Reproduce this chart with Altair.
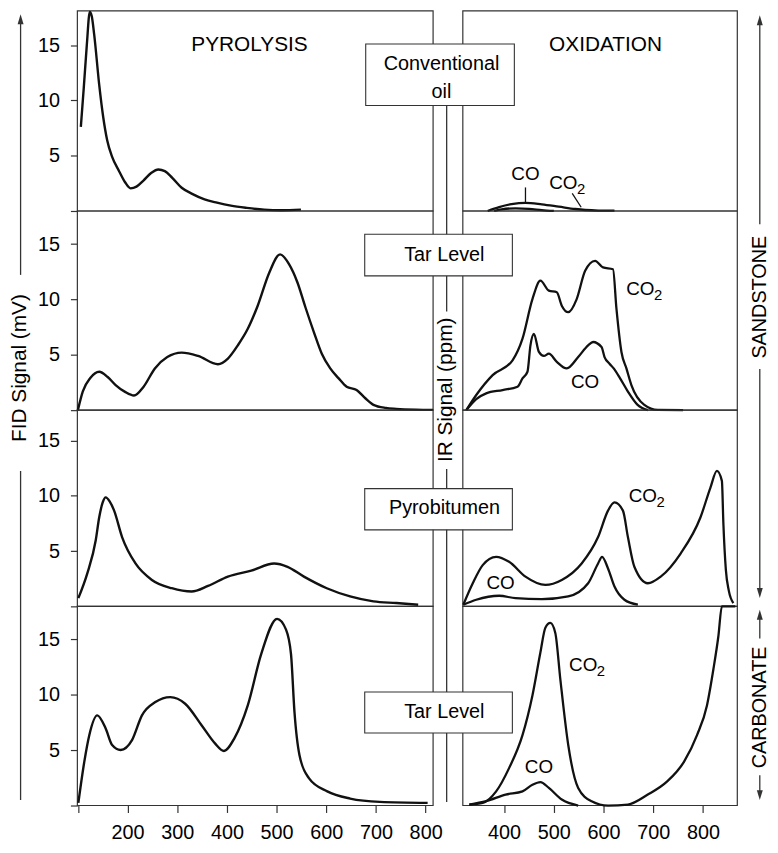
import altair as alt
import pandas as pd

# ---------------- values ----------------
# Pyrolysis: FID signal (mV) vs temperature (°C)
conv_pyro_T = [106, 112, 118, 124, 128, 133, 143, 151, 159, 169, 183, 195, 206, 218, 232, 248, 262, 275, 290, 309,
               330, 355, 380, 408, 440, 475, 510, 549]
conv_pyro_mV = [7.6, 11.2, 15.0, 18.0, 17.6, 15.9, 11.4, 8.5, 6.4, 4.9, 3.6, 2.6, 2.05, 2.2, 2.75, 3.45, 3.75, 3.6, 3.0, 2.1,
                1.55, 1.05, 0.75, 0.48, 0.28, 0.12, 0.07, 0.12]

tar_pyro_T = [100, 110, 125, 143, 160, 176, 195, 213, 232, 255, 280, 309, 342, 382, 402, 422, 442, 462, 485, 507,
              525, 542, 558, 575, 591, 608, 625, 641, 661, 678, 695, 720, 741, 780, 815]
tar_pyro_mV = [0, 1.7, 2.9, 3.47, 3.0, 2.27, 1.65, 1.32, 2.1, 3.77, 4.8, 5.2, 4.9, 4.15, 4.66, 5.86, 7.35, 9.44, 12.4, 14.08,
               13.2, 11.54, 9.3, 7.06, 5.1, 3.77, 2.87, 2.12, 1.82, 1.1, 0.48, 0.2, 0.12, 0.05, 0.03]

pyrob_pyro_T = [101, 119, 136, 143, 150, 156, 164, 173, 189, 216, 249, 289, 329, 362, 402, 449, 495, 522, 555, 601,
                648, 695, 741, 785]
pyrob_pyro_mV = [0.74, 2.98, 5.98, 8.06, 9.4, 9.86, 9.5, 8.66, 6.27, 3.88, 2.39, 1.64, 1.34, 1.85, 2.69, 3.23, 3.88, 3.58, 2.69, 1.64,
                 0.9, 0.45, 0.3, 0.15]

carb_pyro_T = [101, 113, 123, 139, 156, 169, 186, 209, 229, 256, 286, 316, 349, 376, 394, 415, 442, 469, 501, 519,
               529, 536, 546, 565, 602, 648, 708, 804]
carb_pyro_mV = [0.24, 3.97, 6.36, 8.15, 6.96, 5.47, 5.02, 5.91, 8.15, 9.35, 9.8, 9.2, 7.26, 5.62, 4.93, 6.07, 9.05, 13.68, 16.87, 15.9,
                13.68, 8.45, 4.57, 2.48, 1.28, 0.63, 0.33, 0.24]

# Oxidation: IR signal (ppm, arbitrary units) vs temperature (°C)
conv_ox_T_co2 = [367, 390, 415, 443, 476, 510, 543, 563, 590, 622]
conv_ox_co2 = [0, 0.35, 0.62, 0.74, 0.6, 0.39, 0.18, 0.09, 0.04, 0.03]
conv_ox_T_co = [380, 395, 423, 450, 476, 500]
conv_ox_co = [0, 0.15, 0.24, 0.2, 0.08, 0.0]

tar_ox_T_co2 = [324, 344, 377, 417, 437, 457, 473, 490, 506, 516, 529, 546, 563, 583, 599, 619, 626, 636, 646, 656,
                682, 709, 760]
tar_ox_co2 = [0, 1.37, 3.17, 4.5, 6.46, 10.04, 11.7, 10.8, 10.65, 9.44, 8.85, 10.04, 12.6, 13.5, 12.9, 12.73, 9.15, 5.26, 3.77, 2.27,
              0.48, 0.02, 0]
tar_ox_T_co = [324, 344, 364, 397, 427, 437, 447, 453, 460, 470, 480, 490, 506, 526, 549, 569, 579, 596, 602, 612,
               620, 633, 649, 668, 689]
tar_ox_co = [0, 1.0, 1.52, 1.82, 2.12, 2.87, 3.47, 5.86, 6.9, 5.26, 4.9, 5.1, 4.37, 3.77, 4.8, 5.86, 6.16, 5.7, 4.8, 4.2,
             3.8, 2.9, 1.68, 0.5, 0]

pyrob_ox_T_co2 = [318, 337, 357, 384, 410, 443, 483, 516, 556, 589, 609, 622, 639, 649, 662, 689, 715, 755, 795, 815,
                  828, 838, 841, 846, 852, 861]
pyrob_ox_co2 = [0.15, 2.09, 3.73, 4.48, 4.03, 2.69, 1.94, 2.39, 3.88, 6.27, 8.66, 9.4, 8.66, 6.27, 3.58, 2.09, 2.69, 4.78, 8.06, 10.75,
                12.25, 11.35, 7.5, 3.3, 1.4, 0.3]
pyrob_ox_T_co = [318, 344, 390, 423, 476, 529, 569, 589, 597, 609, 622, 642, 669]
pyrob_ox_co = [0.15, 0.6, 0.96, 0.74, 0.65, 0.9, 2.09, 3.88, 4.48, 3.43, 1.79, 0.6, 0.15]

carb_ox_T_co2 = [330, 357, 384, 410, 437, 457, 473, 483, 493, 503, 513, 529, 549, 576, 609, 649, 689, 728, 762, 788,
                 808, 821, 831, 838, 865]
carb_ox_co2 = [0.09, 0.24, 1.28, 3.38, 6.36, 9.95, 13.83, 16.07, 16.5, 15.6, 11.45, 5.47, 1.59, 0.39, 0, 0.09, 0.99, 2.18, 3.97, 6.36,
               9.05, 12.34, 15.32, 18.0, 18.0]
carb_ox_T_co = [330, 364, 403, 437, 457, 473, 490, 516, 549]
carb_ox_co = [0.09, 0.39, 0.99, 1.28, 1.88, 2.12, 1.59, 0.54, 0]

# curve labels (temperature, signal, subscript)
conv_lab_T, conv_lab_v, conv_lab_sub = [443, 519], [3.34, 2.49], ["", "2"]
tar_lab_T, tar_lab_v, tar_lab_sub = [674, 563], [10.96, 2.53], ["2", ""]
pyrob_lab_T, pyrob_lab_v, pyrob_lab_sub = [679, 393], [9.96, 2.13], ["2", ""]
carb_lab_T, carb_lab_v, carb_lab_sub = [559, 470], [12.65, 3.48], ["2", ""]
# pointer lines for the conventional-oil oxidation labels
conv_ptr_T, conv_ptr_T2 = [443, 537], [443, 555]
conv_ptr_v, conv_ptr_v2 = [2.13, 1.6], [0.65, 0.34]

panel_names = [["Conventional", "oil"], "Tar Level", "Pyrobitumen", "Tar Level"]
pyro_ticks = [100, 200, 300, 400, 500, 600, 700, 800]
ox_ticks = [400, 500, 600, 700, 800]
fid_ticks = [0, 5, 10, 15]

# ---------------- styling / layout ----------------
FONT = "Liberation Sans"
INK = "#111111"
LINE = "#333333"
W_L, W_R, GAP = 359, 277, 30
ROW_H = [202, 201, 198, 201]
ROW_VMAX = [18.1, 18.0, 17.75, 18.0]
X_PYRO = [99, 815]
X_OX = [317, 869]

dummy = pd.DataFrame({"k": [0]})


def vrule(x, y1, y2, width=1.3, opacity=1.0):
    return alt.Chart(dummy).mark_rule(color=LINE, strokeWidth=width, strokeOpacity=opacity).encode(
        x=alt.value(x), y=alt.value(y1), y2=alt.value(y2))


def arrowhead(x, y, up=True):
    path = "M0,-1L0.6,1L-0.6,1Z" if up else "M0,1L0.6,-1L-0.6,-1Z"
    return alt.Chart(dummy).mark_point(shape=path, filled=True, size=100, color=LINE, opacity=1).encode(
        x=alt.value(x), y=alt.value(y))


def text_at(x, y, txt, size=20, angle=0):
    return alt.Chart(dummy).mark_text(text=txt, font=FONT, fontSize=size, color="black", angle=angle,
                                      align="center", baseline="middle", lineHeight=28).encode(
        x=alt.value(x), y=alt.value(y))


def frame(w, h):
    return alt.Chart(dummy).mark_rect(fill="white", fillOpacity=0, stroke=LINE, strokeWidth=1.2).encode(
        x=alt.value(0), x2=alt.value(w), y=alt.value(0), y2=alt.value(h))


def label_box(x0, x1, y0, y1):
    return alt.Chart(dummy).mark_rect(fill="white", stroke=LINE, strokeWidth=1.1).encode(
        x=alt.value(x0), x2=alt.value(x1), y=alt.value(y0), y2=alt.value(y1))


def pyro_panel(r, T, mV, bottom=False, extra=()):
    h = ROW_H[r]
    x_axis = alt.Axis(values=pyro_ticks, labelExpr="datum.value == 100 ? '' : datum.label", title="",
                      tickSize=7, tickColor=LINE, tickWidth=1.2, labelPadding=10, labelFlush=False,
                      labelOverlap=False, domain=False, grid=False, format="d")
    y_axis = alt.Axis(values=fid_ticks, labelExpr="datum.value == 0 ? '' : datum.label", title="",
                      tickSize=7, tickColor=LINE, tickWidth=1.2, labelPadding=11, labelFlush=False,
                      labelOverlap=False, domain=False, grid=False)
    x = alt.X("T:Q", scale=alt.Scale(domain=X_PYRO, nice=False, zero=False), axis=x_axis if bottom else None)
    y = alt.Y("v:Q", scale=alt.Scale(domain=[0, ROW_VMAX[r]], nice=False, zero=True), axis=y_axis)
    df = pd.DataFrame({"T": T, "v": mV})
    curve = alt.Chart(df).mark_line(interpolate="monotone", color=INK, strokeWidth=2.4).encode(x=x, y=y)
    return alt.layer(frame(W_L, h), curve, *extra).properties(width=W_L, height=h)


def ox_panel(r, Tc2, c2, Tc, c, lab, box, box_txt, txt_xy, bottom=False, extra=(), ptr=None):
    h = ROW_H[r]
    x_axis = alt.Axis(values=ox_ticks, title="", tickSize=7, tickColor=LINE, tickWidth=1.2, labelPadding=10,
                      labelFlush=False, labelOverlap=False, domain=False, grid=False, format="d")
    x = alt.X("T:Q", scale=alt.Scale(domain=X_OX, nice=False, zero=False), axis=x_axis if bottom else None)
    y = alt.Y("v:Q", scale=alt.Scale(domain=[0, ROW_VMAX[r]], nice=False, zero=True), axis=None)
    df = pd.concat([pd.DataFrame({"T": Tc2, "v": c2, "gas": "CO2"}),
                    pd.DataFrame({"T": Tc, "v": c, "gas": "CO"})], ignore_index=True)
    curves = alt.Chart(df).mark_line(interpolate="monotone", color=INK, strokeWidth=2.3).encode(
        x=x, y=y, detail="gas:N")
    ldf = pd.DataFrame({"T": lab[0], "v": lab[1], "sub": lab[2], "txt": ["CO"] * len(lab[0])})
    labels = alt.Chart(ldf).mark_text(font=FONT, fontSize=19, color="black", align="center",
                                      baseline="middle").encode(x=x, y=y, text="txt:N")
    subs = alt.Chart(ldf[ldf["sub"] != ""]).mark_text(font=FONT, fontSize=15, color="black", align="center",
                                                       baseline="middle", dx=18, dy=6).encode(x=x, y=y, text="sub:N")
    layers = [frame(W_R, h), curves, labels, subs]
    if ptr is not None:
        pdf = pd.DataFrame({"T": ptr[0], "T2": ptr[1], "v": ptr[2], "v2": ptr[3]})
        layers.append(alt.Chart(pdf).mark_rule(color=INK, strokeWidth=1.3).encode(
            x=x, x2="T2:Q", y=y, y2="v2:Q"))
    layers += list(extra)
    layers.append(label_box(*box))
    layers.append(text_at(txt_xy[0], txt_xy[1], box_txt, size=20))
    return alt.layer(*layers).properties(width=W_R, height=h)


# page -> row-1 left-panel coordinates: x - 78, y - 8.5
overlay = [
    vrule(-70, 100, 101, opacity=0),                       # bounds anchor
    text_at(173.7, 34.5, "PYROLYSIS", size=21),
    # FID axis arrow and title
    arrowhead(-57.3, 8.5, up=True),
    vrule(-57.3, 8.5, 266.5),
    vrule(-57.3, 464.5, 796.5),
    text_at(-58, 360.5, "FID Signal (mV)", size=21, angle=270),
    # IR axis line and title
    vrule(372.7, 51.5, 303.5),
    vrule(372.7, 462.5, 798.5),
    text_at(372, 382.5, "IR Signal (ppm)", size=21, angle=270),
    # SANDSTONE bracket
    arrowhead(688.7, 9.5, up=True),
    vrule(688.7, 9.5, 215.5),
    text_at(688.7, 289, "SANDSTONE", size=20, angle=270),
    vrule(688.7, 361.5, 587.5),
    arrowhead(688.7, 587.5, up=False),
    # CARBONATE bracket
    arrowhead(688.7, 609.5, up=True),
    vrule(688.7, 609.5, 633.5),
    text_at(688.7, 703, "CARBONATE", size=20, angle=270),
    vrule(688.7, 771.5, 791.5),
    arrowhead(688.7, 791.5, up=False),
]

L0 = pyro_panel(0, conv_pyro_T, conv_pyro_mV, extra=overlay)
R0 = ox_panel(0, conv_ox_T_co2, conv_ox_co2, conv_ox_T_co, conv_ox_co,
              (conv_lab_T, conv_lab_v, conv_lab_sub), (-98, 52, 33.5, 95.5), panel_names[0], (-21.5, 53.5),
              extra=[text_at(144, 34.5, "OXIDATION", size=21)],
              ptr=(conv_ptr_T, conv_ptr_T2, conv_ptr_v, conv_ptr_v2))
L1 = pyro_panel(1, tar_pyro_T, tar_pyro_mV)
R1 = ox_panel(1, tar_ox_T_co2, tar_ox_co2, tar_ox_T_co, tar_ox_co,
              (tar_lab_T, tar_lab_v, tar_lab_sub), (-99, 50, 23.5, 65.5), panel_names[1], (-18.7, 44.2))
L2 = pyro_panel(2, pyrob_pyro_T, pyrob_pyro_mV)
R2 = ox_panel(2, pyrob_ox_T_co2, pyrob_ox_co2, pyrob_ox_T_co, pyrob_ox_co,
              (pyrob_lab_T, pyrob_lab_v, pyrob_lab_sub), (-99, 50, 79.2, 120.8), panel_names[2], (-18.5, 99))
L3 = pyro_panel(3, carb_pyro_T, carb_pyro_mV, bottom=True)
R3 = ox_panel(3, carb_ox_T_co2, carb_ox_co2, carb_ox_T_co, carb_ox_co,
              (carb_lab_T, carb_lab_v, carb_lab_sub), (-99, 50, 86.5, 127.8), panel_names[3], (-18.7, 107),
              bottom=True)

chart = alt.concat(L0, R0, L1, R1, L2, R2, L3, R3, columns=2,
                   spacing={"row": 0, "column": GAP}, bounds="flush", align="each").properties(
    padding={"left": 0, "top": -5, "right": 0, "bottom": 0}, background="white"
).configure_view(strokeWidth=0).configure_axis(
    labelFont=FONT, labelFontSize=20, labelColor="black"
)

chart.save("out.html", embed_options={"renderer": "svg", "actions": False})
